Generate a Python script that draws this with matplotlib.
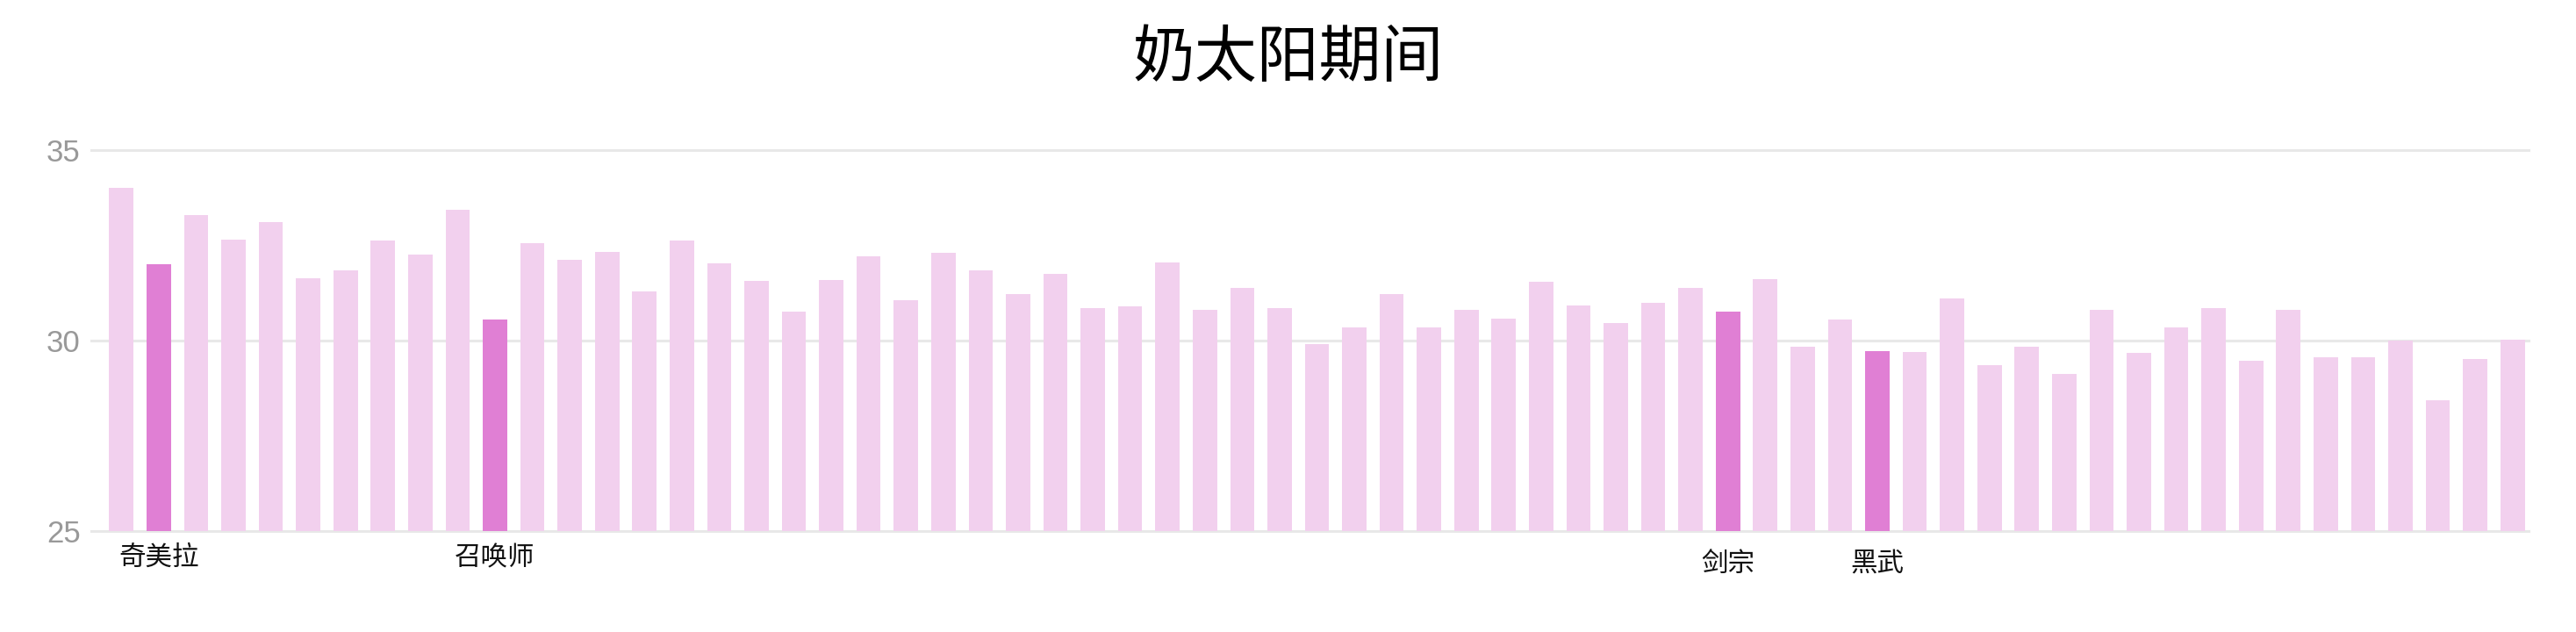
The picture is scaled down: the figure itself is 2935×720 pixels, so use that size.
import matplotlib
matplotlib.use('Agg')
import matplotlib.pyplot as plt

plt.rcParams['font.family'] = ['Noto Sans CJK SC', 'DejaVu Sans']

# 数据
title = '奶太阳期间'
values = [
    34.02, 32.00, 33.29, 32.64, 33.10, 31.63, 31.85, 32.62, 32.26, 33.43,
    30.55, 32.55, 32.11, 32.32, 31.28, 32.63, 32.02, 31.56, 30.75, 31.60,
    32.21, 31.06, 32.30, 31.84, 31.22, 31.74, 30.85, 30.91, 32.04, 30.81,
    31.38, 30.86, 29.90, 30.34, 31.22, 30.35, 30.81, 30.57, 31.54, 30.92,
    30.45, 30.98, 31.39, 30.76, 31.61, 29.83, 30.56, 29.72, 29.71, 31.10,
    29.36, 29.85, 29.12, 30.81, 29.68, 30.34, 30.85, 29.47, 30.80, 29.57,
    29.56, 29.99, 28.43, 29.51, 30.02,
]
# 高亮的职业 (索引 -> 名称)
highlight_idx = [1, 10, 43, 47]
highlight_names = ['奇美拉', '召唤师', '剑宗', '黑武']
label_offsets = [-15, -15, -22, -22]  # 标签下移像素
y_ticks = [25, 30, 35]

light_color = '#f2d0ee'
dark_color = '#e07fd4'
grid_color = '#e8e8e8'

fig = plt.figure(figsize=(29.35, 7.2), dpi=100)
ax = fig.add_axes([104 / 2935, 115 / 720, 2777 / 2935, 434 / 720])

x = list(range(len(values)))
colors = [dark_color if i in highlight_idx else light_color for i in x]
ax.bar(x, values, width=0.65, color=colors, zorder=2)

ax.set_xlim(-0.805, 64.43)
ax.set_ylim(25, 35)

# 网格线
for v in y_ticks:
    ax.axhline(v, color=grid_color, linewidth=2.2, zorder=1, clip_on=False)

for s in ax.spines.values():
    s.set_visible(False)

ax.set_xticks([])
ax.set_yticks(y_ticks)
ax.set_yticklabels([str(v) for v in y_ticks], family='Liberation Sans',
                   fontsize=25, color='#999999')
ax.tick_params(axis='y', length=0, pad=9)

# 高亮标签
for i, name, off in zip(highlight_idx, highlight_names, label_offsets):
    ax.annotate(name, xy=(i, 0), xycoords=('data', 'axes fraction'),
                xytext=(0, off * 0.72), textcoords='offset points',
                ha='center', va='top', fontsize=22, color='#111111')

fig.text(0.5, 0.908, title, ha='center', va='center', fontsize=51, color='#000000')

plt.savefig('out.png', dpi=100)
